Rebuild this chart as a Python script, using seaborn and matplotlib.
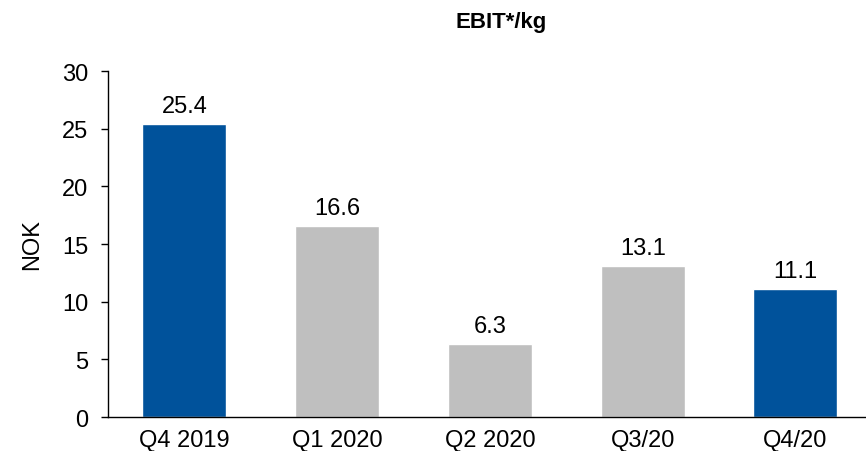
import matplotlib
matplotlib.use("Agg")
import matplotlib.pyplot as plt
import seaborn as sns

# Chart values
quarters = ["Q4 2019", "Q1 2020", "Q2 2020", "Q3/20", "Q4/20"]
ebit_per_kg = [25.4, 16.6, 6.3, 13.1, 11.1]
bar_colors = ["#00529B", "#BFBFBF", "#BFBFBF", "#BFBFBF", "#00529B"]

sns.set_style("white")
plt.rcParams["font.family"] = ["Liberation Sans", "DejaVu Sans"]
plt.rcParams["text.color"] = "black"
plt.rcParams["axes.labelcolor"] = "black"
plt.rcParams["xtick.color"] = "black"
plt.rcParams["ytick.color"] = "black"

fig = plt.figure(figsize=(8.66, 4.52), dpi=100)
ax = fig.add_axes([0.1247, 0.0752, 0.875, 0.7655])

sns.barplot(x=quarters, y=ebit_per_kg, hue=quarters, palette=bar_colors,
            width=0.55, legend=False, saturation=1, ax=ax)

# Value labels above the bars
for i, v in enumerate(ebit_per_kg):
    ax.text(i, v + 0.6, f"{v:.1f}", ha="center", va="bottom", fontsize=17)

ax.set_ylim(0, 30)
ax.set_xlim(-0.5, 4.46)
ax.set_yticks(range(0, 31, 5))
ax.set_ylabel("NOK", fontsize=17, labelpad=14)
ax.set_xlabel("")
ax.tick_params(axis="y", which="both", left=True, length=5, width=1, labelsize=17, pad=9)
ax.tick_params(axis="x", bottom=False, labelsize=17, pad=5)

sns.despine(ax=ax, top=True, right=True)
for s in ["left", "bottom"]:
    ax.spines[s].set_color("black")
    ax.spines[s].set_linewidth(1)

fig.text(0.579, 0.951, "EBIT*/kg", ha="center", va="center", fontsize=16, fontweight="bold")

fig.savefig("out.png", dpi=100)
